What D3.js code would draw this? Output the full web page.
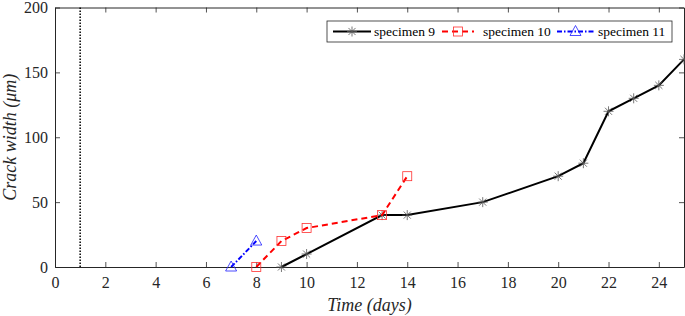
<!DOCTYPE html>
<html>
<head>
<meta charset="utf-8">
<script src="https://cdn.jsdelivr.net/npm/d3@7"></script>
<style>
  body { margin: 0; background: #fff; }
</style>
</head>
<body>
<div id="graf"></div>
<script>
const days9 = [9, 10, 13, 14, 17, 20, 21, 22, 23, 24, 25]
const width9 = [0, 10, 40, 40, 50, 70, 80, 120, 130, 140, 160]
const days10 = [8, 9, 10, 13, 14]
const width10 = [0, 20, 30, 40, 70]
const days11 = [7, 8]
const width11 = [0, 20]
const xTicks = [0, 2, 4, 6, 8, 10, 12, 14, 16, 18, 20, 22, 24]
const yTicks = [0, 50, 100, 150, 200]
const markLine = 1

const fuente = 'Liberation Serif'
const anchoTotal = 685
const altoTotal = 316
const margin = { top: 7.5, bottom: 49, left: 55, right: 1 }
const ancho = anchoTotal - margin.left - margin.right
const alto = altoTotal - margin.top - margin.bottom

const svg = d3.select('#graf')
  .append('svg')
  .attr('width', anchoTotal)
  .attr('height', altoTotal)
  .attr('font-family', fuente)

const g = svg.append('g')
  .attr('transform', `translate(${margin.left}, ${margin.top})`)

const x = d3.scaleLinear().domain([0, 25]).range([0, ancho])
const y = d3.scaleLinear().domain([0, 200]).range([alto, 0])

const axisColor = '#262626'

// ejes, ticks hacia adentro
const xAxis = g.append('g')
  .attr('transform', `translate(0, ${alto})`)
  .call(d3.axisBottom(x).tickValues(xTicks).tickSize(-5).tickPadding(10).tickSizeOuter(0))
const xTop = g.append('g')
  .call(d3.axisTop(x).tickValues(xTicks).tickSize(-5).tickFormat('').tickSizeOuter(0))
const yAxis = g.append('g')
  .call(d3.axisLeft(y).tickValues(yTicks).tickSize(-5).tickPadding(7).tickSizeOuter(0))
const yRight = g.append('g')
  .attr('transform', `translate(${ancho}, 0)`)
  .call(d3.axisRight(y).tickValues(yTicks).tickSize(-5).tickFormat('').tickSizeOuter(0))

;[xAxis, xTop, yAxis, yRight].forEach(a => {
  a.attr('font-family', fuente).attr('font-size', 16)
  a.select('.domain').attr('stroke', axisColor).attr('stroke-width', 1)
  a.selectAll('.tick line').attr('stroke', axisColor).attr('stroke-width', 0.8)
  a.selectAll('text').attr('fill', axisColor)
})

// linea vertical punteada
g.append('line')
  .attr('x1', x(markLine)).attr('x2', x(markLine))
  .attr('y1', 0).attr('y2', alto)
  .attr('stroke', '#000').attr('stroke-width', 1.5)
  .attr('stroke-dasharray', '1.5,1.5')

const series = [
  { name: 'specimen 9', xs: days9, ys: width9, color: '#000', dash: null, marker: 'star', mcolor: '#555' },
  { name: 'specimen 10', xs: days10, ys: width10, color: '#ff0000', dash: '6,4', marker: 'square', mcolor: '#ff3030' },
  { name: 'specimen 11', xs: days11, ys: width11, color: '#0000ff', dash: '5,2,1.5,2', marker: 'triangle', mcolor: '#2020ff' },
]

const line = d3.line().x(d => x(d[0])).y(d => y(d[1]))

function drawMarker(sel, type, color) {
  if (type === 'star') {
    const r = 5
    ;[0, 45, 90, 135].forEach(a => {
      const rad = a * Math.PI / 180
      sel.append('line')
        .attr('x1', -r * Math.cos(rad)).attr('y1', -r * Math.sin(rad))
        .attr('x2', r * Math.cos(rad)).attr('y2', r * Math.sin(rad))
        .attr('stroke', color).attr('stroke-width', 0.8)
    })
  } else if (type === 'square') {
    sel.append('rect').attr('x', -4.5).attr('y', -4.5).attr('width', 9).attr('height', 9)
      .attr('fill', 'none').attr('stroke', color).attr('stroke-width', 0.8)
  } else {
    sel.append('path').attr('d', 'M0,-6L5.5,4L-5.5,4Z')
      .attr('fill', 'none').attr('stroke', color).attr('stroke-width', 0.8)
  }
}

series.forEach(s => {
  const pts = s.xs.map((d, i) => [d, s.ys[i]])
  g.append('path')
    .datum(pts)
    .attr('d', line)
    .attr('fill', 'none')
    .attr('stroke', s.color)
    .attr('stroke-width', 2)
    .attr('stroke-dasharray', s.dash)
  g.selectAll(null).data(pts).enter()
    .append('g')
    .attr('transform', d => `translate(${x(d[0])}, ${y(d[1])})`)
    .each(function () { drawMarker(d3.select(this), s.marker, s.mcolor) })
})

// leyenda
const leg = svg.append('g').attr('transform', 'translate(327, 21)')
leg.append('rect').attr('width', 345).attr('height', 21)
  .attr('fill', '#fff').attr('stroke', axisColor).attr('stroke-width', 0.8)
const legX = [6, 115, 230]
const legW = [38, 32, 37]
const legT = [47, 156, 271]
series.forEach((s, i) => {
  const it = leg.append('g').attr('transform', `translate(0, 10.5)`)
  it.append('line').attr('x1', legX[i]).attr('x2', legX[i] + legW[i]).attr('y1', 0).attr('y2', 0)
    .attr('stroke', s.color).attr('stroke-width', 2).attr('stroke-dasharray', s.dash)
  drawMarker(it.append('g').attr('transform', `translate(${legX[i] + legW[i] / 2}, 0)`), s.marker, s.mcolor)
  it.append('text').attr('x', legT[i]).attr('y', 4.5)
    .attr('font-size', 13.5).attr('fill', '#000').text(s.name)
})

// titulos
svg.append('text')
  .attr('x', margin.left + ancho / 2).attr('y', 311)
  .attr('text-anchor', 'middle').attr('font-size', 18).attr('font-style', 'italic')
  .attr('fill', axisColor).text('Time (days)')
svg.append('text')
  .attr('transform', `translate(16, ${margin.top + alto / 2}) rotate(-90)`)
  .attr('text-anchor', 'middle').attr('font-size', 18).attr('font-style', 'italic')
  .attr('fill', axisColor).text('Crack width (μm)')
</script>
</body>
</html>
